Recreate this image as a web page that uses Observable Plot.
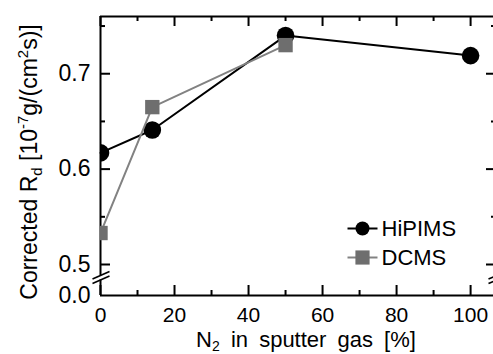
<!DOCTYPE html>
<html>
<head>
<meta charset="utf-8">
<script src="https://cdn.jsdelivr.net/npm/d3@7"></script>
<script src="https://cdn.jsdelivr.net/npm/@observablehq/plot@0.6"></script>
<style>
  html, body { margin: 0; padding: 0; background: #fff; }
  #chart { width: 493px; height: 354px; }
</style>
</head>
<body>
<div id="chart"></div>
<script>
// ---- data ----
const n2Hipims = [0, 14, 50, 100];
const rdHipims = [0.617, 0.641, 0.740, 0.719];
const n2Dcms = [0, 14, 50];
const rdDcms = [0.533, 0.665, 0.730];
const seriesNames = ["HiPIMS", "DCMS"];

const xMajorTicks = [0, 20, 40, 60, 80, 100];
const xMinorTicks = [10, 30, 50, 70, 90];
const yTickLabels = [0, 0.5, 0.6, 0.7];
const yMajorTicks = [0.5, 0.6, 0.7];
const yMinorTicks = [0.55, 0.65, 0.75];

// ---- layout ----
const W = 493, H = 354;
const mL = 100, mT = 16, mB = 59, mR = -3;
const xDomain = [0, 107];
const yDomain = [0, 0.5, 0.76];          // broken axis: 0 -> 0.5 compressed
const yRange = [H - mB, 264, mT];
const xRange = [mL, W - mR];
const innerW = W - mL - mR, innerH = H - mT - mB;
const xs = d3.scaleLinear().domain(xDomain).range(xRange);
const ys = d3.scaleLinear().domain(yDomain).range(yRange);
const font = "'Liberation Sans', Arial, Helvetica, sans-serif";
const black = "#000";
const grayLine = "#828282";
const grayFill = "#6e6e6e";

const hip = n2Hipims.map((x, i) => ({x, y: rdHipims[i]}));
const dc = n2Dcms.map((x, i) => ({x, y: rdDcms[i]}));

// axis break positions (pixels -> data)
const breakLo = ys.invert(279.5), breakHi = ys.invert(275);
const slashes = [];
for (const xp of [mL, W - mR]) {
  for (const off of [0, -4.5]) {
    slashes.push({x1: xs.invert(xp - 8), y1: ys.invert(283 + off), x2: xs.invert(xp + 9), y2: ys.invert(275.5 + off)});
  }
}

// legend positions (pixels -> data)
const legend = [
  {name: seriesNames[0], yp: 228},
  {name: seriesNames[1], yp: 257}
].map(d => ({...d, y: ys.invert(d.yp), x1: xs.invert(347), x2: xs.invert(377), xm: xs.invert(362), xt: xs.invert(381)}));

const plot = Plot.plot({
  width: W, height: H,
  marginLeft: mL, marginRight: mR, marginTop: mT, marginBottom: mB,
  style: {fontFamily: font, fontSize: "21px", color: "#000", background: "#fff"},
  x: {type: "linear", domain: xDomain, range: xRange, ticks: xMajorTicks, tickSize: 0, tickPadding: 12, label: null},
  y: {type: "linear", domain: yDomain, range: yRange, axis: null},
  marks: [
    // y tick labels
    Plot.text(yTickLabels, {y: d => d, text: d => d.toFixed(1), frameAnchor: "left", textAnchor: "end", dx: -10, fontSize: 23, fill: black}),
    // frame
    Plot.ruleY([yDomain[0]], {stroke: black, strokeWidth: 2}),
    Plot.ruleY([yDomain[yDomain.length - 1]], {stroke: black, strokeWidth: 2}),
    Plot.ruleX([xDomain[0], xDomain[1]], {y1: yDomain[0], y2: breakLo, stroke: black, strokeWidth: 2}),
    Plot.ruleX([xDomain[0], xDomain[1]], {y1: breakHi, y2: yDomain[yDomain.length - 1], stroke: black, strokeWidth: 2}),
    Plot.link(slashes, {x1: "x1", y1: "y1", x2: "x2", y2: "y2", stroke: black, strokeWidth: 1.6}),
    // ticks (inward)
    Plot.tickX(xMajorTicks, {x: d => d, insetTop: innerH - 10, stroke: black, strokeWidth: 2}),
    Plot.tickX(xMinorTicks, {x: d => d, insetTop: innerH - 5, stroke: black, strokeWidth: 2}),
    Plot.tickX(xMajorTicks, {x: d => d, insetBottom: innerH - 10, stroke: black, strokeWidth: 2}),
    Plot.tickX(xMinorTicks, {x: d => d, insetBottom: innerH - 5, stroke: black, strokeWidth: 2}),
    Plot.tickY(yMajorTicks, {y: d => d, insetRight: innerW - 10, stroke: black, strokeWidth: 2}),
    Plot.tickY(yMinorTicks, {y: d => d, insetRight: innerW - 5, stroke: black, strokeWidth: 2}),
    Plot.tickY(yMajorTicks, {y: d => d, insetLeft: innerW - 10, stroke: black, strokeWidth: 2}),
    Plot.tickY(yMinorTicks, {y: d => d, insetLeft: innerW - 5, stroke: black, strokeWidth: 2}),
    // series
    Plot.line(hip, {x: "x", y: "y", stroke: black, strokeWidth: 2}),
    Plot.dot(hip, {x: "x", y: "y", r: 8.8, fill: black, stroke: "none", clip: true}),
    Plot.line(dc, {x: "x", y: "y", stroke: grayLine, strokeWidth: 2}),
    Plot.dot(dc, {x: "x", y: "y", r: 8.1, symbol: "square", fill: grayFill, stroke: "none", clip: true}),
    // legend
    Plot.link(legend, {x1: "x1", x2: "x2", y1: "y", y2: "y", stroke: (d, i) => i === 0 ? black : grayLine, strokeWidth: 2}),
    Plot.dot(legend.slice(0, 1), {x: "xm", y: "y", r: 7, fill: black, stroke: "none"}),
    Plot.dot(legend.slice(1), {x: "xm", y: "y", r: 8, symbol: "square", fill: grayFill, stroke: "none"}),
    Plot.text(legend, {x: "xt", y: "y", text: "name", textAnchor: "start", fontSize: 22, fill: black})
  ]
});

const svg = d3.select(plot);

// x title with subscript
const xt = svg.append("text")
  .attr("x", 306).attr("y", 347)
  .attr("text-anchor", "middle")
  .attr("word-spacing", 5)
  .attr("font-family", font).attr("font-size", 22).attr("fill", "#000");
xt.append("tspan").text("N");
xt.append("tspan").attr("font-size", 14).attr("dy", 4).text("2");
xt.append("tspan").attr("dy", -4).text(" in sputter gas [%]");

// y title with sub/superscripts
const yt = svg.append("text")
  .attr("transform", "translate(37,162) rotate(-90)")
  .attr("text-anchor", "middle")
  .attr("font-family", font).attr("font-size", 23).attr("fill", "#000");
yt.append("tspan").text("Corrected R");
yt.append("tspan").attr("font-size", 15).attr("dy", 5).text("d");
yt.append("tspan").attr("dy", -5).text(" [10");
yt.append("tspan").attr("font-size", 15).attr("dy", -9).text("-7");
yt.append("tspan").attr("dy", 9).text("g/(cm");
yt.append("tspan").attr("font-size", 15).attr("dy", -9).text("2");
yt.append("tspan").attr("dy", 9).text("s)]");

document.getElementById("chart").appendChild(plot);
</script>
</body>
</html>
